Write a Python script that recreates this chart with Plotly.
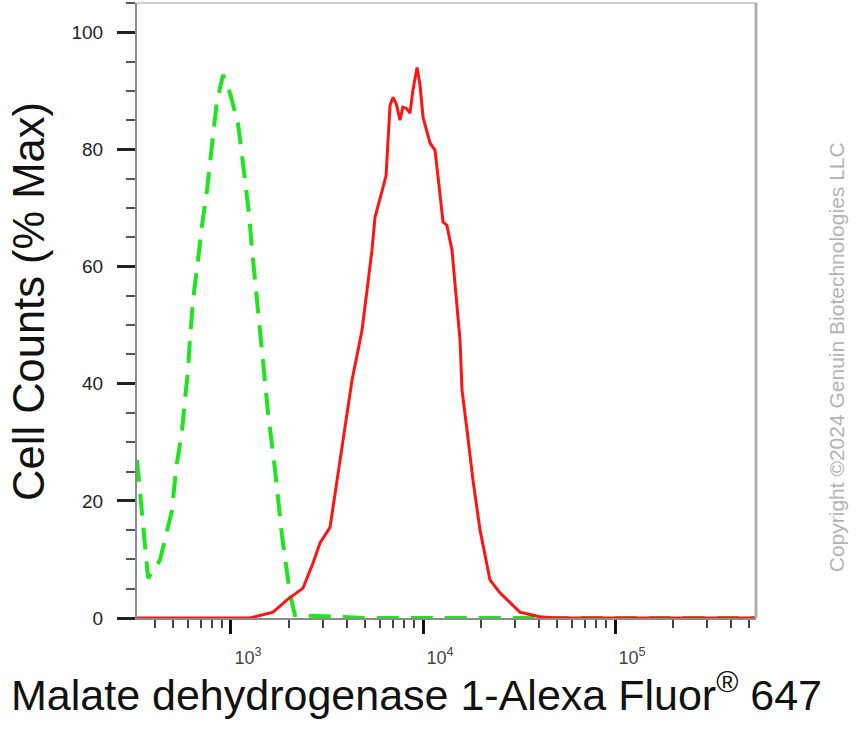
import numpy as np
import plotly.graph_objects as go

# Isotype control (green dashed) - fluorescence intensity vs % max
green_x = [324, 370, 427, 464, 493, 517, 556, 576, 597, 611, 634, 673, 706, 750, 787,
           815, 845, 908, 988, 1087, 1141, 1183, 1241, 1286, 1334, 1383, 1433, 1486,
           1560, 1695, 1844, 2030, 2153, 5000, 20000, 100000, 542000]
green_y = [27.0, 6.8, 9.9, 15.0, 18.4, 25.3, 32.1, 37.2, 42.3, 47.4, 54.3, 61.0, 67.0,
           73.0, 78.5, 83.8, 88.1, 92.7, 89.6, 84.5, 79.0, 74.7, 69.0, 63.0, 58.0,
           53.4, 48.0, 42.0, 35.0, 25.3, 14.0, 4.0, 0.5, 0.0, 0.0, 0.0, 0.0]

# Malate dehydrogenase 1 stained sample (red solid)
red_x = [324, 1256, 1655, 1958, 2372, 2673, 2909, 3280, 3567, 3786, 4268, 4811, 5423,
         5623, 5970, 6418, 6731, 6977, 7250, 7590, 7850, 8200, 8553, 8850, 9306, 9647,
         10000, 10490, 10874, 11546, 11834, 12266, 12714, 13300, 14155, 15590, 15960,
         16950, 18210, 19810, 22320, 25150, 28340, 31940, 40560, 48700, 542000]
red_y = [0.0, 0.0, 1.0, 3.1, 5.1, 9.4, 12.8, 15.5, 23.5, 29.2, 40.6, 49.1, 62.8,
         68.4, 71.8, 75.5, 87.5, 88.9, 87.8, 85.0, 87.2, 87.0, 86.2, 90.0, 94.0, 91.0,
         85.5, 82.8, 81.1, 79.9, 77.0, 72.5, 67.6, 67.1, 62.8, 47.4, 38.9,
         32.1, 23.5, 15.0, 6.5, 4.3, 2.6, 1.0, 0.2, 0.0, 0.0]

y_ticks = [0, 20, 40, 60, 80, 100]
x_ticks = [1e3, 1e4, 1e5]
x_ticktext = ["10<sup>3</sup>", "10<sup>4</sup>", "10<sup>5</sup>"]
x_minor = [m * 10 ** d for d in (2, 3, 4, 5) for m in range(2, 10) if 324 <= m * 10 ** d <= 542000]

fig = go.Figure()
fig.add_trace(go.Scatter(x=green_x, y=green_y, mode="lines",
                         line=dict(color="#1ee61e", width=4, dash="22px,12px"),
                         showlegend=False, hoverinfo="skip"))
fig.add_trace(go.Scatter(x=red_x, y=red_y, mode="lines",
                         line=dict(color="#ff1414", width=3),
                         showlegend=False, hoverinfo="skip"))

fig.update_layout(
    width=861, height=730,
    margin=dict(l=137, r=105, t=3, b=112, autoexpand=False),
    paper_bgcolor="white", plot_bgcolor="white",
    font=dict(family="Liberation Sans, Arial, sans-serif", color="#333"),
    xaxis=dict(
        type="log", range=[np.log10(324), np.log10(542000)],
        automargin=False,
        showgrid=False, zeroline=False,
        showline=True, linecolor="#8c8c8c", linewidth=2,
        tickmode="array", tickvals=x_ticks, ticktext=x_ticktext,
        ticks="outside", ticklen=14, tickwidth=3, tickcolor="#111",
        tickfont=dict(size=18, color="#444"),
        ticklabelshift=17, ticklabelstandoff=8,
        minor=dict(tickvals=x_minor, ticks="outside", ticklen=8, tickwidth=1.5, tickcolor="#444"),
    ),
    yaxis=dict(
        range=[0, 105],
        automargin=False,
        showgrid=False, zeroline=False,
        showline=True, linecolor="#8c8c8c", linewidth=2,
        tickmode="array", tickvals=y_ticks,
        ticks="outside", ticklen=18, tickwidth=3, tickcolor="#222",
        tickfont=dict(size=19, color="#222"),
        ticklabelstandoff=10,
        minor=dict(dtick=5, ticks="outside", ticklen=9, tickwidth=1.5, tickcolor="#555"),
    ),
    shapes=[
        dict(type="line", xref="paper", yref="paper", x0=0, x1=1, y0=1, y1=1,
             line=dict(color="#d0d0d0", width=2)),
        dict(type="line", xref="paper", yref="paper", x0=1, x1=1, y0=0, y1=1,
             line=dict(color="#b0b0b0", width=3)),
    ],
    annotations=[
        dict(text="Malate dehydrogenase 1-Alexa Fluor<sup>®</sup> 647",
             xref="paper", yref="paper", x=0.451, y=0, yshift=-74,
             xanchor="center", yanchor="middle", showarrow=False,
             font=dict(size=43, color="#111")),
        dict(text="Cell Counts (% Max)",
             xref="paper", yref="paper", x=0, xshift=-108, y=0.514,
             xanchor="center", yanchor="middle", textangle=-90, showarrow=False,
             font=dict(size=43.5, color="#111")),
        dict(text="Copyright ©2024 Genuin Biotechnologies LLC",
             xref="paper", yref="paper", x=1, xshift=80, y=0.424,
             xanchor="center", yanchor="middle", textangle=-90, showarrow=False,
             font=dict(size=21, color="#b4b4b4")),
    ],
)

fig.write_html("out.html", config={"displayModeBar": False},
               post_script="document.body.style.margin='0';")
